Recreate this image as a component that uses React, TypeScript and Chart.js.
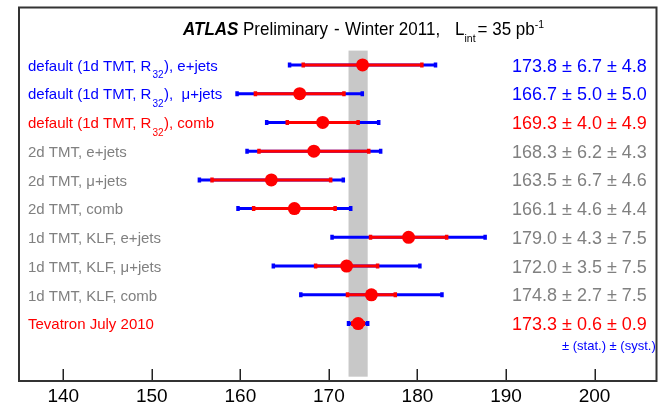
import { useEffect, useRef } from "react";
import { Chart, registerables } from "chart.js";

Chart.register(...registerables);

// Measurements of the top-quark mass (GeV), listed top to bottom.
const rowLabels: string[][] = [
  ["default (1d TMT, R", "32", "), e+jets"],
  ["default (1d TMT, R", "32", "),  \u03bc+jets"],
  ["default (1d TMT, R", "32", "), comb"],
  ["2d TMT, e+jets"],
  ["2d TMT, \u03bc+jets"],
  ["2d TMT, comb"],
  ["1d TMT, KLF, e+jets"],
  ["1d TMT, KLF, \u03bc+jets"],
  ["1d TMT, KLF, comb"],
  ["Tevatron July 2010"],
];
const rowColors = [
  "#0000ff", "#0000ff", "#ff0000",
  "#808080", "#808080", "#808080",
  "#808080", "#808080", "#808080",
  "#ff0000",
];
const centralValues = [173.8, 166.7, 169.3, 168.3, 163.5, 166.1, 179.0, 172.0, 174.8, 173.3];
const statErrors = [6.7, 5.0, 4.0, 6.2, 6.7, 4.6, 4.3, 3.5, 2.7, 0.6];
const systErrors = [4.8, 5.0, 4.9, 4.3, 4.6, 4.4, 7.5, 7.5, 7.5, 0.9];
const xTickValues = [140, 150, 160, 170, 180, 190, 200];

// The shaded band shows the total uncertainty of the Tevatron average.
const bandRow = 9;

const FONT = '"Liberation Sans", Arial, Helvetica, sans-serif';
const RED = "#ff0000";
const BLUE = "#0000ff";

const totalErrors = statErrors.map((s, i) => Math.sqrt(s * s + systErrors[i] * systErrors[i]));

const segments = (errs: number[]) =>
  centralValues.flatMap((m, i) => [
    { x: m - errs[i], y: i },
    { x: m + errs[i], y: i },
    { x: m, y: null as unknown as number },
  ]);

const fmt = (v: number) => v.toFixed(1);

function drawTitle(ctx: CanvasRenderingContext2D) {
  const ty = 35;
  const stretch = 1.12;
  ctx.save();
  ctx.translate(0, ty);
  ctx.scale(1, stretch);
  ctx.fillStyle = "#000";
  ctx.textAlign = "left";
  ctx.textBaseline = "alphabetic";
  ctx.font = `italic bold 17px ${FONT}`;
  ctx.fillText("ATLAS", 183, 0);
  ctx.font = `17px ${FONT}`;
  ctx.fillText("Preliminary", 243, 0);
  ctx.fillText("-", 334, 0);
  ctx.fillText("Winter 2011,", 345, 0);
  let tx = 455;
  ctx.fillText("L", tx, 0);
  tx += ctx.measureText("L").width;
  ctx.font = `10.5px ${FONT}`;
  ctx.fillText("int", tx, 6);
  tx += ctx.measureText("int").width + 2;
  ctx.font = `17px ${FONT}`;
  ctx.fillText("= 35 pb", tx, 0);
  tx += ctx.measureText("= 35 pb").width;
  ctx.font = `10.5px ${FONT}`;
  ctx.fillText("-1", tx, -6.5);
  ctx.restore();
}

const decorations = {
  id: "decorations",
  beforeDatasetsDraw(chart: Chart) {
    const { ctx } = chart;
    const xs = chart.scales.x;
    const ys = chart.scales.y;
    const c = centralValues[bandRow];
    const e = totalErrors[bandRow];
    const x0 = xs.getPixelForValue(c - e);
    const x1 = xs.getPixelForValue(c + e);
    const y0 = ys.getPixelForValue(-0.5);
    const y1 = ys.getPixelForValue(10.85);
    ctx.save();
    ctx.fillStyle = "#c8c8c8";
    ctx.fillRect(x0, y0, x1 - x0, y1 - y0);
    ctx.restore();
  },
  afterDraw(chart: Chart) {
    const { ctx, chartArea } = chart;
    const xs = chart.scales.x;
    const ys = chart.scales.y;
    ctx.save();

    // inward tick marks on the bottom axis
    ctx.strokeStyle = "#222";
    ctx.lineWidth = 1.5;
    for (const v of xTickValues) {
      const px = Math.round(xs.getPixelForValue(v)) + 0.25;
      ctx.beginPath();
      ctx.moveTo(px, chartArea.bottom);
      ctx.lineTo(px, chartArea.bottom - 12);
      ctx.stroke();
    }

    // frame
    ctx.strokeStyle = "#333";
    ctx.lineWidth = 2;
    ctx.strokeRect(chartArea.left, chartArea.top, chartArea.right - chartArea.left, chartArea.bottom - chartArea.top);

    // row labels with optional subscripts
    ctx.textAlign = "left";
    ctx.textBaseline = "alphabetic";
    rowLabels.forEach((parts, i) => {
      const y = ys.getPixelForValue(i);
      let x = 28;
      ctx.fillStyle = rowColors[i];
      parts.forEach((p, k) => {
        if (k % 2 === 1) {
          ctx.font = `10px ${FONT}`;
          x += 1;
          ctx.fillText(p, x, y + 13.5);
          x += ctx.measureText(p).width + 0.5;
        } else {
          ctx.font = `15px ${FONT}`;
          ctx.fillText(p, x, y + 5.8);
          x += ctx.measureText(p).width;
        }
      });
    });

    // value ± stat ± syst
    ctx.font = `18px ${FONT}`;
    centralValues.forEach((m, i) => {
      const y = ys.getPixelForValue(i);
      ctx.fillStyle = rowColors[i];
      ctx.fillText(`${fmt(m)} \u00b1 ${fmt(statErrors[i])} \u00b1 ${fmt(systErrors[i])}`, 512, y + 6.6);
    });

    ctx.font = `13px ${FONT}`;
    ctx.fillStyle = BLUE;
    ctx.fillText("\u00b1 (stat.) \u00b1 (syst.)", 562, ys.getPixelForValue(9.75) + 4.5);

    ctx.restore();
    drawTitle(ctx);
  },
};

export default function App() {
  const ref = useRef<HTMLCanvasElement | null>(null);

  useEffect(() => {
    if (!ref.current) return;
    const chart = new Chart(ref.current, {
      type: "scatter",
      data: {
        datasets: [
          {
            label: "central",
            data: centralValues.map((m, i) => ({ x: m, y: i })),
            backgroundColor: RED,
            borderWidth: 0,
            pointRadius: 6.5,
            order: 0,
          },
          {
            label: "stat",
            data: segments(statErrors),
            showLine: true,
            borderColor: RED,
            borderWidth: 3,
            pointStyle: "line",
            pointRotation: 90,
            pointRadius: 2.5,
            pointBorderWidth: 3.5,
            pointBorderColor: RED,
            order: 1,
          } as any,
          {
            label: "total",
            data: segments(totalErrors),
            showLine: true,
            borderColor: BLUE,
            borderWidth: 3,
            pointStyle: "line",
            pointRotation: 90,
            pointRadius: 2.5,
            pointBorderWidth: 3.5,
            pointBorderColor: BLUE,
            order: 2,
          } as any,
        ],
      },
      options: {
        animation: false,
        responsive: false,
        devicePixelRatio: 1,
        events: [],
        layout: { padding: { left: 19, right: 2, top: 6, bottom: -6 } },
        plugins: { legend: { display: false }, tooltip: { enabled: false } },
        scales: {
          x: {
            type: "linear",
            min: 135,
            max: 207,
            afterBuildTicks: (scale: any) => {
              scale.ticks = xTickValues.map((v) => ({ value: v }));
            },
            grid: { display: false, drawTicks: false },
            border: { display: false },
            ticks: {
              color: "#000",
              padding: 6,
              maxRotation: 0,
              font: { family: FONT, size: 19, lineHeight: 1.0 },
            },
          },
          y: {
            type: "linear",
            min: -2,
            max: 11,
            reverse: true,
            display: false,
          },
        },
      },
      plugins: [decorations],
    });
    return () => chart.destroy();
  }, []);

  return (
    <div style={{ position: "fixed", left: 0, top: 0, width: 664, height: 406, background: "#fff" }}>
      <canvas ref={ref} width={664} height={406} style={{ display: "block" }} />
    </div>
  );
}
